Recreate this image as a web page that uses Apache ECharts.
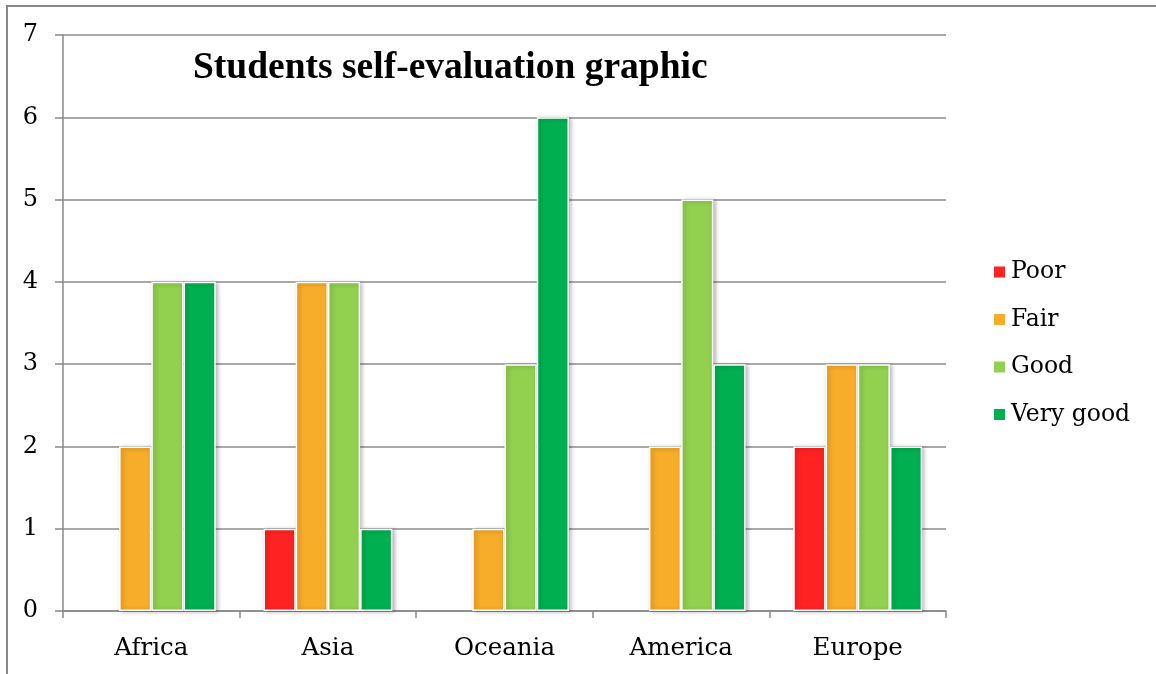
<!DOCTYPE html>
<html>
<head>
<meta charset="utf-8">
<script src="https://cdn.jsdelivr.net/npm/echarts@6/dist/echarts.min.js"></script>
<style>html,body{margin:0;padding:0;background:#fff;}#c{width:1156px;height:674px;}</style>
</head>
<body>
<div id="c"></div>
<script>
var categories = ['Africa', 'Asia', 'Oceania', 'America', 'Europe'];
var poor = [0, 1, 0, 0, 2];
var fair = [2, 4, 1, 2, 3];
var good = [4, 4, 3, 5, 3];
var veryGood = [4, 1, 6, 3, 2];
var seriesNames = ['Poor', 'Fair', 'Good', 'Very good'];
var seriesColors = ['#FF2222', '#F7AC2A', '#92D050', '#00B050'];
var yTicks = [0, 1, 2, 3, 4, 5, 6, 7];

var chart = echarts.init(document.getElementById('c'), null, {renderer: 'canvas'});
var valueSets = [poor, fair, good, veryGood];
var series = valueSets.map(function (vals, i) {
  return {
    name: seriesNames[i],
    type: 'bar',
    data: vals.map(function (v) {
      return v === 0
        ? {value: v, itemStyle: {borderWidth: 0, shadowBlur: 0, shadowColor: 'rgba(0,0,0,0)'}}
        : v;
    }),
    barGap: '0%',
    barCategoryGap: '27%',
    itemStyle: {
      color: seriesColors[i],
      borderColor: '#ffffff',
      borderWidth: 1.5,
      shadowBlur: 4,
      shadowColor: 'rgba(0,0,0,0.28)',
      shadowOffsetX: 2,
      shadowOffsetY: 1
    }
  };
});
var option = {
  animation: false,
  backgroundColor: '#ffffff',
  title: {
    text: 'Students self-evaluation graphic',
    left: 188,
    top: 44,
    textStyle: {fontFamily: 'Liberation Serif', fontWeight: 'bold', fontSize: 37.5, color: '#000'}
  },
  legend: {
    orient: 'vertical',
    left: 987,
    top: 255,
    icon: 'rect',
    itemWidth: 13,
    itemHeight: 13,
    itemGap: 23.5,
    data: seriesNames,
    textStyle: {fontFamily: 'DejaVu Serif', fontSize: 23.5, color: '#000', lineHeight: 24}
  },
  grid: {left: 63, right: 210, top: 35, bottom: 63, containLabel: false},
  xAxis: {
    type: 'category',
    data: categories,
    axisLine: {lineStyle: {color: '#888', width: 1.5}},
    axisTick: {show: true, length: 7, lineStyle: {color: '#888', width: 1.5}},
    axisLabel: {fontFamily: 'DejaVu Serif', fontSize: 24.5, color: '#000', margin: 25}
  },
  yAxis: {
    type: 'value',
    min: 0,
    max: 7,
    interval: 1,
    axisLine: {show: true, lineStyle: {color: '#888', width: 1.5}},
    axisTick: {show: true, length: 8, lineStyle: {color: '#888', width: 1.5}},
    splitLine: {lineStyle: {color: '#8c8c8c', width: 1.5}},
    axisLabel: {fontFamily: 'DejaVu Serif', fontSize: 24, color: '#000', margin: 25,
      formatter: function (v) { return yTicks.indexOf(v) >= 0 ? String(v) : ''; }}
  },
  graphic: [{
    type: 'rect',
    shape: {x: 7, y: 6, width: 1300, height: 900},
    style: {fill: 'none', stroke: '#888', lineWidth: 2},
    silent: true,
    z: 100
  }],
  series: series
};
chart.setOption(option);
</script>
</body>
</html>
